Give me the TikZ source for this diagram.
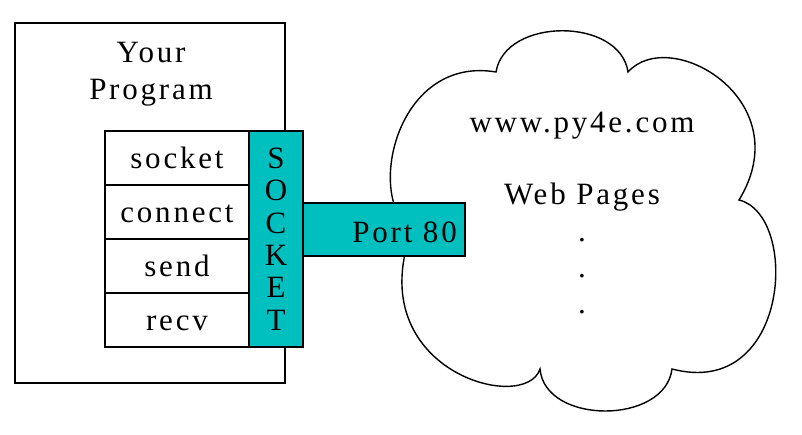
\documentclass[tikz,border=0pt]{standalone}
\usepackage{fontspec}
\setmainfont{Liberation Serif}[LetterSpace=9]
\usepackage{xcolor}
\definecolor{socketcyan}{RGB}{0,191,191}

\begin{document}
\begin{tikzpicture}[x=1pt,y=-1pt,
  box/.style={draw,line width=1.6pt,inner sep=0pt},
  callbox/.style={box,fill=white,minimum width=144pt,minimum height=54pt,text height=21pt,text depth=0pt},
  txt/.style={font=\fontsize{31}{37}\selectfont,inner sep=0pt}]
\useasboundingbox (0,0) rectangle (802,435);
% the web server cloud
\draw[line width=1.4pt,fill=white] (496,72) .. controls (505,17) and (620,17) .. (628,72)
  .. controls (670,25) and (800,100) .. (739,200)
  .. controls (800,215) and (790,400) .. (672,369)
  .. controls (665,425) and (545,425) .. (540,369)
  .. controls (525,415) and (360,370) .. (412,230)
  .. controls (365,200) and (395,55) .. cycle;
\node[txt] (site) at (582,126) {www.py4e.com};
\node[txt] (pages) at (582,197) {Web Pages};
\node[txt] (dot1) at (582,240) {.};
\node[txt] (dot2) at (582,276) {.};
\node[txt] (dot3) at (582,312) {.};
% port
\node[box,fill=socketcyan,minimum width=162pt,minimum height=53pt] (port) at (384,229.5) {};
\node[txt,anchor=east] (portlbl) at (457,232) {Port 80};
% the program
\node[box,minimum width=270pt,minimum height=360pt] (prog) at (150,203) {};
\node[txt,align=center] (title) at (151,74) {Your\\Program};
\node[callbox,txt] (socket) at (177,158) {socket};
\node[callbox,txt] (connect) at (177,212) {connect};
\node[callbox,txt] (send) at (177,266) {send};
\node[callbox,txt] (recv) at (177,320) {recv};
\node[box,fill=socketcyan,minimum width=54pt,minimum height=216pt] (sock) at (276,239) {};
\node[txt,align=center,font=\fontsize{31}{32.4}\selectfont] (letters) at (276,239) {S\\O\\C\\K\\E\\T};
\end{tikzpicture}
\end{document}
